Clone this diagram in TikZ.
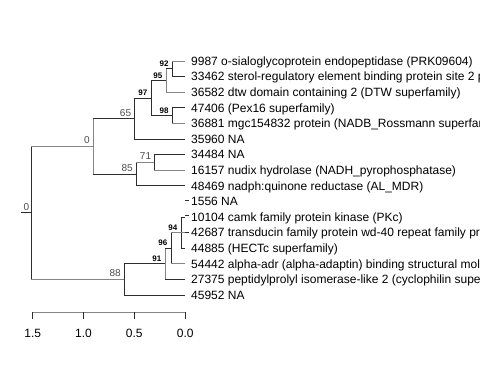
\documentclass[tikz,border=0pt]{standalone}
\usepackage{fontspec}
\setmainfont{Liberation Sans}
\begin{document}
\begin{tikzpicture}[x=1pt,y=-1pt,
  dk/.style={draw=black!82, line width=1pt},
  gy/.style={draw=black!48, line width=1pt},
  tip/.style={anchor=base west, inner sep=0pt, font=\fontsize{12}{14}\selectfont},
  bs/.style={anchor=base east, inner sep=0pt, text=black!70, font=\fontsize{10}{12}\selectfont},
  bsb/.style={anchor=base east, inner sep=0pt, text=black, font=\fontsize{8}{10}\selectfont\bfseries},
  axl/.style={anchor=center, inner sep=0pt, font=\fontsize{12}{14}\selectfont}]
\useasboundingbox (0,0) rectangle (480,384);
\clip (0,0) rectangle (480,384);
% internal nodes
\coordinate (R) at (31,212.85);
\coordinate (R0) at (21,212.85);
\coordinate (A) at (93,146.3);
\coordinate (B) at (134.3,118.5);
\coordinate (C) at (151,98.05);
\coordinate (F) at (166,80.5);
\coordinate (H) at (172.3,68.8);
\coordinate (G) at (172.3,115.6);
\coordinate (E) at (136,174.1);
\coordinate (I) at (154.3,162.4);
\coordinate (D) at (124,279.4);
\coordinate (J) at (165,263.8);
\coordinate (K) at (171,248.2);
\coordinate (L) at (181,232.6);
% leaves
\coordinate (l1) at (185,61);
\coordinate (l2) at (185,76.6);
\coordinate (l3) at (185,92.2);
\coordinate (l4) at (185,107.8);
\coordinate (l5) at (185,123.4);
\coordinate (l6) at (185,139);
\coordinate (l7) at (185,154.6);
\coordinate (l8) at (185,170.2);
\coordinate (l9) at (185,185.8);
\coordinate (l10) at (185,201.4);
\coordinate (l11) at (185,217);
\coordinate (l12) at (185,232.6);
\coordinate (l13) at (185,248.2);
\coordinate (l14) at (185,263.8);
\coordinate (l15) at (185,279.4);
\coordinate (l16) at (185,295);
% root
\draw[dk] (R0) -- (R);
\draw[dk] (R |- A) -- (R |- D);
\draw[gy] (R |- A) -- (A);
\draw[gy] (R |- D) -- (D);
% A
\draw[gy] (A |- B) -- (A |- E);
\draw[dk] (A |- B) -- (B);
\draw[dk] (A |- E) -- (E);
% B
\draw[dk] (B |- C) -- (B |- l6);
\draw[dk] (B |- C) -- (C);
\draw[dk] (B |- l6) -- (l6);
% C
\draw[dk] (C |- F) -- (C |- G);
\draw[dk] (C |- F) -- (F);
\draw[dk] (C |- G) -- (G);
% F
\draw[gy] (F |- H) -- (F |- l3);
\draw[dk] (F |- H) -- (H);
\draw[gy] (F |- l3) -- (l3);
% H
\draw[dk] (H |- l1) -- (H |- l2);
\draw[gy] (H |- l1) -- (l1);
\draw[dk] (H |- l2) -- (l2);
% G
\draw[dk] (G |- l4) -- (G |- l5);
\draw[dk] (G |- l4) -- (l4);
\draw[gy] (G |- l5) -- (l5);
% E
\draw[dk] (E |- I) -- (E |- l9);
\draw[gy] (E |- I) -- (I);
\draw[dk] (E |- l9) -- (l9);
% I
\draw[dk] (I |- l7) -- (I |- l8);
\draw[dk] (I |- l7) -- (l7);
\draw[gy] (I |- l8) -- (l8);
% D
\draw[dk] (D |- J) -- (D |- l16);
\draw[dk] (D |- J) -- (J);
\draw[dk] (D |- l16) -- (l16);
% J
\draw[gy] (J |- K) -- (J |- l15);
\draw[dk] (J |- K) -- (K);
\draw[dk] (J |- l15) -- (l15);
% K
\draw[dk] (K |- L) -- (K |- l14);
\draw[gy] (K |- L) -- (L);
\draw[gy] (K |- l14) -- (l14);
% L
\draw[dk] (L |- l11) -- (L |- l13);
\draw[dk] (L |- l11) -- (l11);
\draw[gy] (L |- l12) -- (l12);
\draw[dk] (L |- l13) -- (l13);
% short tip dashes
\draw[dk] ([yshift=0.5pt]l10) -- ++(4,0);
\draw[dk] ([yshift=2pt]l11) -- ++(4,0);
\draw[dk] ([yshift=0.5pt]l12) -- ++(4,0);
% tip labels
\node[tip] (t1) at (191,65.3) {9987 o-sialoglycoprotein endopeptidase (PRK09604)};
\node[tip] (t2) at (191,80.9) {33462 sterol-regulatory element binding protein site 2 protease};
\node[tip] (t3) at (191,96.5) {36582 dtw domain containing 2 (DTW superfamily)};
\node[tip] (t4) at (191,112.1) {47406 (Pex16 superfamily)};
\node[tip] (t5) at (191,127.7) {36881 mgc154832 protein (NADB\_Rossmann superfamily)};
\node[tip] (t6) at (191,143.3) {35960 NA};
\node[tip] (t7) at (191,158.9) {34484 NA};
\node[tip] (t8) at (191,174.5) {16157 nudix hydrolase (NADH\_pyrophosphatase)};
\node[tip] (t9) at (191,190.1) {48469 nadph:quinone reductase (AL\_MDR)};
\node[tip] (t10) at (191,205.7) {1556 NA};
\node[tip] (t11) at (191,221.3) {10104 camk family protein kinase (PKc)};
\node[tip] (t12) at (191,236.9) {42687 transducin family protein wd-40 repeat family protein};
\node[tip] (t13) at (191,252.5) {44885 (HECTc superfamily)};
\node[tip] (t14) at (191,268.1) {54442 alpha-adr (alpha-adaptin) binding structural molecule};
\node[tip] (t15) at (191,283.7) {27375 peptidylprolyl isomerase-like 2 (cyclophilin superfamily)};
\node[tip] (t16) at (191,299.3) {45952 NA};
% support labels
\node[bs] (sR) at ([xshift=-1.5pt,yshift=2.5pt]R) {0};
\node[bs] (sA) at ([xshift=-3pt,yshift=2.5pt]A) {0};
\node[bs] (sB) at ([xshift=-3pt,yshift=2.5pt]B) {65};
\node[bsb] (sC) at ([xshift=-3.5pt,yshift=2.5pt]C) {97};
\node[bsb] (sF) at ([xshift=-3.5pt,yshift=2.5pt]F) {95};
\node[bsb] (sH) at ([xshift=-3.5pt,yshift=2.5pt]H) {92};
\node[bsb] (sG) at ([xshift=-3.5pt,yshift=2.5pt]G) {98};
\node[bs] (sE) at ([xshift=-3pt,yshift=2.5pt]E) {85};
\node[bs] (sI) at ([xshift=-3pt,yshift=2.5pt]I) {71};
\node[bs] (sD) at ([xshift=-3pt,yshift=2.5pt]D) {88};
\node[bsb] (sJ) at ([xshift=-3.5pt,yshift=2.5pt]J) {91};
\node[bsb] (sK) at ([xshift=-3.5pt,yshift=2.5pt]K) {96};
\node[bsb] (sL) at ([xshift=-3.5pt,yshift=2.5pt]L) {94};
% axis
\coordinate (a15) at (32.7,312);
\coordinate (a10) at (83.5,312);
\coordinate (a05) at (134.3,312);
\coordinate (a00) at (185.2,312);
\draw[gy] (a15) -- (a00);
\foreach \p in {a15,a10,a05,a00} \draw[dk] (\p) -- ++(0,7);
\node[axl] (x15) at (32.7,333.5) {1.5};
\node[axl] (x10) at (83.5,333.5) {1.0};
\node[axl] (x05) at (134.3,333.5) {0.5};
\node[axl] (x00) at (185.2,333.5) {0.0};
\end{tikzpicture}
\end{document}
